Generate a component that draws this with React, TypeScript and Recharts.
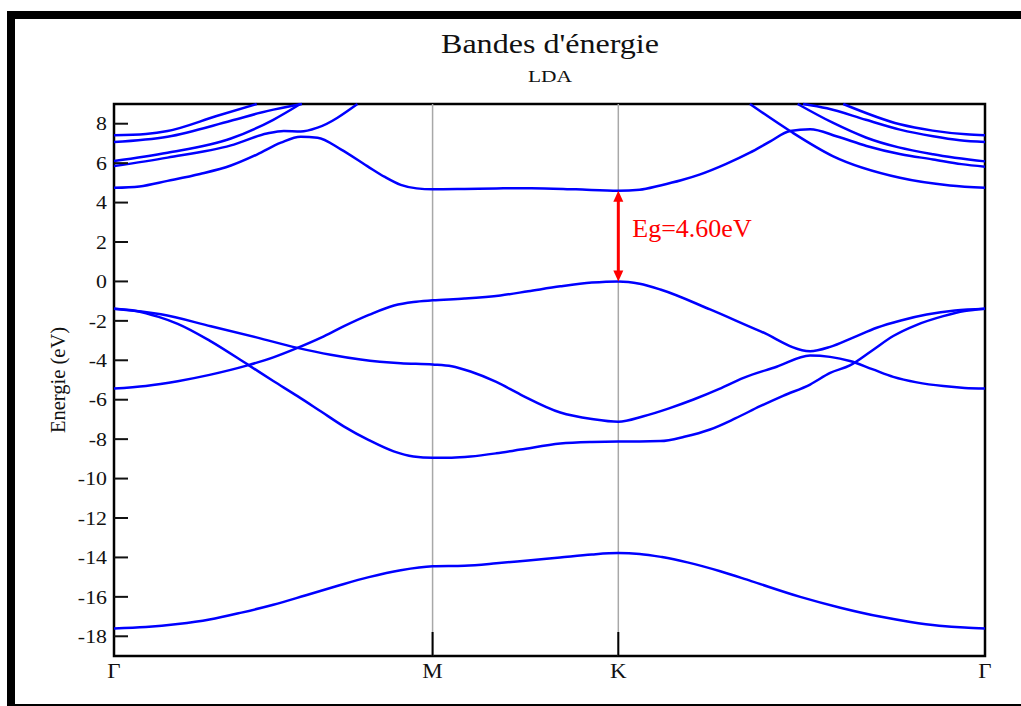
import { LineChart, Line, XAxis, YAxis, ReferenceLine, ReferenceArea } from "recharts";

const SERIF = '"Liberation Serif", "Times New Roman", serif';
const PLOT_LEFT = 114;

// path Γ-M-K-Γ, |ΓM| taken as 1
const kM = 1;
const kK = 1.583;
const kEnd = 2.734;

const xTicks = [0, kM, kK, kEnd];
const xTickLabels = ["Γ", "M", "K", "Γ"];
const yTicks = [-18, -16, -14, -12, -10, -8, -6, -4, -2, 0, 2, 4, 6, 8];

const gap = 4.6;

type Pt = [number, number];

// [k, energy in eV]
const sBand: Pt[] = [
  [0, -17.6], [0.1, -17.53], [0.2, -17.38], [0.3, -17.15], [0.4, -16.8], [0.5, -16.4],
  [0.6, -15.93], [0.7, -15.45], [0.8, -15.0], [0.9, -14.65], [1, -14.45], [1.1, -14.42],
  [1.2, -14.3], [1.3, -14.15], [1.4, -14.0], [1.5, -13.85], [1.583, -13.78], [1.65, -13.82],
  [1.72, -13.98], [1.8, -14.25], [1.903, -14.7], [2.0, -15.2], [2.154, -16.0], [2.28, -16.55],
  [2.404, -17.0], [2.5, -17.27], [2.59, -17.46], [2.67, -17.56], [2.734, -17.6],
];

const valenceA: Pt[] = [
  [0, -1.39], [0.07, -1.5], [0.14, -1.8], [0.2, -2.15], [0.3, -3.0], [0.419, -4.21],
  [0.5, -5.05], [0.576, -5.82], [0.65, -6.6], [0.721, -7.35], [0.8, -8.05], [0.878, -8.62],
  [0.94, -8.88], [1, -8.95], [1.06, -8.94], [1.119, -8.88], [1.2, -8.72], [1.276, -8.53],
  [1.401, -8.22], [1.5, -8.14], [1.583, -8.12], [1.65, -8.12], [1.715, -8.1], [1.79, -7.88],
  [1.871, -7.51], [1.95, -6.95], [2.028, -6.33], [2.1, -5.8], [2.185, -5.23], [2.248, -4.64],
  [2.31, -4.26], [2.38, -3.5], [2.446, -2.77], [2.52, -2.2], [2.603, -1.76], [2.67, -1.5],
  [2.734, -1.38],
];

const valenceB: Pt[] = [
  [0, -1.39], [0.147, -1.67], [0.304, -2.27], [0.45, -2.85], [0.576, -3.37], [0.68, -3.72],
  [0.774, -3.96], [0.9, -4.15], [1, -4.21], [1.06, -4.3], [1.119, -4.57], [1.2, -5.1],
  [1.276, -5.74], [1.401, -6.65], [1.5, -6.98], [1.583, -7.12], [1.662, -6.84], [1.74, -6.45],
  [1.819, -5.99], [1.9, -5.45], [1.976, -4.89], [2.08, -4.33], [2.185, -3.76], [2.31, -4.04],
  [2.38, -4.45], [2.446, -4.84], [2.52, -5.12], [2.603, -5.31], [2.67, -5.4], [2.734, -5.43],
];

const valenceC: Pt[] = [
  [0, -5.43], [0.1, -5.3], [0.2, -5.06], [0.3, -4.74], [0.419, -4.26], [0.5, -3.85],
  [0.576, -3.37], [0.65, -2.85], [0.722, -2.27], [0.8, -1.7], [0.879, -1.22], [0.94, -1.04],
  [1, -0.96], [1.1, -0.87], [1.213, -0.71], [1.3, -0.5], [1.401, -0.25], [1.5, -0.06],
  [1.583, 0], [1.65, -0.12], [1.715, -0.41], [1.871, -1.42], [2.028, -2.52], [2.185, -3.54],
  [2.248, -3.32], [2.32, -2.85], [2.394, -2.35], [2.47, -1.98], [2.551, -1.68], [2.64, -1.47],
  [2.734, -1.38],
];

const conduction1: Pt[] = [
  [0, 4.75], [0.08, 4.82], [0.168, 5.1], [0.27, 5.45], [0.367, 5.88], [0.45, 6.45],
  [0.524, 7.04], [0.586, 7.34], [0.639, 7.29], [0.712, 6.7], [0.795, 5.85], [0.85, 5.3],
  [0.9, 4.9], [0.95, 4.72], [1, 4.67], [1.1, 4.69], [1.2, 4.72], [1.31, 4.73], [1.45, 4.67],
  [1.583, 4.6], [1.65, 4.65], [1.715, 4.87], [1.78, 5.13], [1.84, 5.43], [1.92, 5.95],
  [1.996, 6.53], [2.06, 7.1], [2.122, 7.63], [2.185, 7.72], [2.27, 7.35], [2.362, 6.87],
  [2.47, 6.45], [2.571, 6.19], [2.66, 5.95], [2.734, 5.82],
];

const conductionFall: Pt[] = [
  [1.996, 9.0], [2.122, 7.63], [2.256, 6.36], [2.467, 5.26], [2.624, 4.87], [2.734, 4.75],
];

const upperL1: Pt[] = [[0, 7.41], [0.1, 7.48], [0.168, 7.63], [0.322, 8.39], [0.448, 9.0]];
const upperL2: Pt[] = [[0, 7.07], [0.168, 7.34], [0.367, 8.15], [0.48, 8.64], [0.59, 9.0]];
const upperL3: Pt[] = [[0, 6.11], [0.168, 6.53], [0.367, 7.25], [0.5, 8.2], [0.585, 9.0]];
const upperL4: Pt[] = [
  [0, 5.85], [0.168, 6.28], [0.367, 6.9], [0.48, 7.5], [0.533, 7.63], [0.586, 7.6],
  [0.639, 7.8], [0.764, 9.0],
];

const upperR1: Pt[] = [[2.289, 9.0], [2.467, 7.97], [2.57, 7.65], [2.675, 7.46], [2.734, 7.41]];
const upperR2: Pt[] = [
  [2.163, 9.0], [2.238, 8.78], [2.36, 8.2], [2.467, 7.7], [2.571, 7.36], [2.655, 7.16], [2.734, 7.07],
];
const upperR3: Pt[] = [[2.146, 9.0], [2.256, 8.05], [2.36, 7.3], [2.571, 6.45], [2.734, 6.09]];

const bands = [
  sBand, valenceA, valenceB, valenceC, conduction1, conductionFall,
  upperL1, upperL2, upperL3, upperL4, upperR1, upperR2, upperR3,
];

const toPoints = (b: Pt[]) => b.map(([k, e]) => ({ k, e }));

function YTick(props: any) {
  const { y, payload } = props;
  return (
    <g>
      <line x1={PLOT_LEFT} x2={PLOT_LEFT + 14} y1={y} y2={y} stroke="#111" strokeWidth={2} />
      <text
        transform={`translate(${PLOT_LEFT - 7},${y}) scale(1.15,1)`}
        textAnchor="end"
        dy="0.35em"
        fontSize={19}
        fontFamily={SERIF}
        fill="#111"
      >
        {payload.value}
      </text>
    </g>
  );
}

function XTick(props: any) {
  const { x, y, payload } = props;
  const label = xTickLabels[xTicks.indexOf(payload.value)];
  return (
    <text
      transform={`translate(${x},${y + 14}) scale(1.15,1)`}
      textAnchor="middle"
      fontSize={20}
      fontFamily={SERIF}
      fill="#111"
    >
      {label}
    </text>
  );
}

function SymmetryLine(props: any) {
  const { x1, y1, x2, y2 } = props;
  const bottom = Math.max(y1, y2);
  return (
    <g>
      <line x1={x1} y1={y1} x2={x2} y2={y2} stroke="#a8a8a8" strokeWidth={1.5} />
      <line x1={x1} y1={bottom} x2={x1} y2={bottom - 24} stroke="#000" strokeWidth={2} />
    </g>
  );
}

function GapArrow(props: any) {
  const { x1, y1, y2 } = props;
  const top = Math.min(y1, y2);
  const bot = Math.max(y1, y2);
  return (
    <g>
      <line x1={x1} y1={top + 8} x2={x1} y2={bot - 8} stroke="#ff0000" strokeWidth={3} />
      <polygon points={`${x1},${top} ${x1 - 5},${top + 11} ${x1 + 5},${top + 11}`} fill="#ff0000" />
      <polygon points={`${x1},${bot} ${x1 - 5},${bot - 11} ${x1 + 5},${bot - 11}`} fill="#ff0000" />
      <text x={x1 + 14} y={(top + bot) / 2 + 1} fill="#ff0000" fontSize={26} fontFamily={SERIF}>
        {`Eg=${gap.toFixed(2)}eV`}
      </text>
    </g>
  );
}

export default function App() {
  return (
    <div
      style={{
        position: "absolute",
        left: 0,
        top: 0,
        width: 1021,
        height: 706,
        overflow: "hidden",
        background: "#fff",
      }}
    >
      {/* thick outer frame */}
      <div
        style={{
          position: "absolute",
          left: 7,
          top: 11,
          width: 1100,
          height: 685,
          border: "8px solid #000",
        }}
      />

      <div style={{ position: "absolute", left: 0, top: 0 }}>
        <LineChart width={1021} height={706} margin={{ top: 104, right: 36, bottom: 0, left: 0 }}>
          <XAxis
            dataKey="k"
            type="number"
            domain={[0, kEnd]}
            ticks={xTicks}
            interval={0}
            height={50}
            tickLine={false}
            axisLine={false}
            tick={XTick}
          />
          <YAxis
            type="number"
            domain={[-19, 9]}
            ticks={yTicks}
            interval={0}
            width={114}
            tickLine={false}
            axisLine={false}
            tick={YTick}
          />
          <ReferenceLine x={kM} shape={SymmetryLine} />
          <ReferenceLine x={kK} shape={SymmetryLine} />
          {bands.map((b, i) => (
            <Line
              key={i}
              data={toPoints(b)}
              dataKey="e"
              type="monotone"
              stroke="#0000ff"
              strokeWidth={2.5}
              dot={false}
              activeDot={false}
              isAnimationActive={false}
            />
          ))}
          <ReferenceLine
            segment={[
              { x: kK, y: 0 },
              { x: kK, y: gap },
            ]}
            shape={GapArrow}
          />
          <ReferenceArea x1={0} x2={kEnd} y1={-19} y2={9} fill="none" stroke="#000" strokeWidth={2.5} />
        </LineChart>
      </div>

      <svg
        width={1021}
        height={706}
        style={{ position: "absolute", left: 0, top: 0, pointerEvents: "none" }}
      >
        <text
          x={550}
          y={53}
          textAnchor="middle"
          fontSize={27}
          fontFamily={SERIF}
          fill="#111"
          textLength={218}
          lengthAdjust="spacingAndGlyphs"
        >
          Bandes d'énergie
        </text>
        <text
          x={550}
          y={82}
          textAnchor="middle"
          fontSize={17.5}
          fontFamily={SERIF}
          fill="#111"
          textLength={44}
          lengthAdjust="spacingAndGlyphs"
        >
          LDA
        </text>
        <text
          transform="translate(65,380) rotate(-90)"
          textAnchor="middle"
          fontSize={20.5}
          fontFamily={SERIF}
          fill="#111"
        >
          Energie (eV)
        </text>
      </svg>
    </div>
  );
}
